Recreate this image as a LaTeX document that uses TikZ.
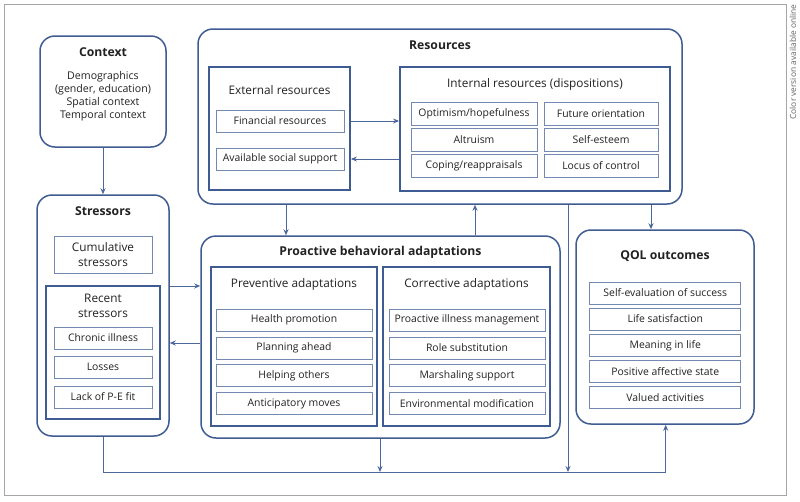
\documentclass[tikz,border=0pt]{standalone}
\usepackage{fontspec}
\setmainfont{Open Sans}
\usetikzlibrary{arrows.meta}
\definecolor{dk}{HTML}{3E5C92}
\definecolor{ln}{HTML}{4B679B}
\definecolor{it}{HTML}{7489B1}
\definecolor{tx}{HTML}{222222}
\tikzset{
  bigbox/.style={draw=dk, line width=1.5pt, rounded corners=15pt, inner sep=0pt},
  grpbox/.style={draw=dk, line width=1.8pt, inner sep=0pt},
  itembox/.style={draw=it, line width=0.9pt, inner sep=0pt, minimum height=22pt, font=\fontsize{10.4}{15}\selectfont, text=tx},
  ttl/.style={font=\bfseries\fontsize{12.2}{14}\selectfont, text=tx, inner sep=0pt},
  sub/.style={font=\fontsize{11.8}{15}\selectfont, text=tx, inner sep=0pt, align=center},
  body/.style={font=\fontsize{10.6}{13}\selectfont, text=tx, inner sep=0pt, align=center},
  arr/.style={draw=ln, line width=0.9pt, -{Stealth[length=6pt,width=5pt]}},
  ln/.style={draw=ln, line width=0.9pt},
}
\begin{document}
\begin{tikzpicture}[x=1pt,y=-1pt]
\useasboundingbox (0,0) rectangle (800,501);
\fill[white] (0,0) rectangle (800,501);
\draw[gray!70, line width=0.8pt] (4,4) rectangle (786,495);
\node[rotate=90, font=\fontsize{8.4}{9}\selectfont, text=gray!80!black, inner sep=0pt] (note) at (793,62) {Color version available online};

% Context
\node[bigbox, minimum width=126pt, minimum height=111pt] (ctx) at (103,91.5) {};
\node[ttl] (ctxt) at (103,52) {Context};
\node[body] (ctxb) at (103,96.5) {Demographics\\(gender, education)\\Spatial context\\Temporal context};

% Stressors
\node[bigbox, minimum width=132pt, minimum height=241pt] (str) at (103,315.5) {};
\node[ttl] (strt) at (103,211) {Stressors};
\node[itembox, minimum width=98pt, minimum height=37pt, align=center, font=\fontsize{11.8}{15}\selectfont] (cum) at (103,254.5) {Cumulative\\stressors};
\node[grpbox, minimum width=114pt, minimum height=133pt] (rec) at (103,352.5) {};
\node[sub] (rect) at (103,305.5) {Recent\\stressors};
\node[itembox, minimum width=98pt] (chr) at (103,338) {Chronic illness};
\node[itembox, minimum width=98pt] (los) at (103,367) {Losses};
\node[itembox, minimum width=98pt] (pef) at (103,397) {Lack of P-E fit};

% Resources
\node[bigbox, minimum width=484pt, minimum height=175pt] (res) at (440,116.5) {};
\node[ttl] (rest) at (440,45) {Resources};
\node[grpbox, minimum width=141pt, minimum height=123pt] (ext) at (279.5,128.5) {};
\node[sub] (extt) at (279.5,90) {External resources};
\node[itembox, minimum width=128pt] (fin) at (280,121) {Financial resources};
\node[itembox, minimum width=128pt] (soc) at (280,159) {Available social support};
\node[grpbox, minimum width=270pt, minimum height=124pt] (int) at (535,129) {};
\node[sub] (intt) at (535,84) {Internal resources (dispositions)};
\node[itembox, minimum width=126pt, minimum height=23pt] (opt) at (474,113.5) {Optimism/hopefulness};
\node[itembox, minimum width=126pt, minimum height=23pt] (alt) at (474,139.5) {Altruism};
\node[itembox, minimum width=126pt, minimum height=23pt] (cop) at (474,165.5) {Coping/reappraisals};
\node[itembox, minimum width=114pt, minimum height=23pt] (fut) at (601,113.5) {Future orientation};
\node[itembox, minimum width=114pt, minimum height=23pt] (est) at (601,139.5) {Self-esteem};
\node[itembox, minimum width=114pt, minimum height=23pt] (loc) at (601,165.5) {Locus of control};

% Proactive
\node[bigbox, minimum width=359pt, minimum height=202pt] (pro) at (380.5,337) {};
\node[ttl] (prot) at (380.5,252) {Proactive behavioral adaptations};
\node[grpbox, minimum width=166pt, minimum height=159pt] (prev) at (294,346.5) {};
\node[sub] (prevt) at (294,284) {Preventive adaptations};
\node[itembox, minimum width=156pt] (hp) at (294,320) {Health promotion};
\node[itembox, minimum width=156pt] (pa) at (294,348) {Planning ahead};
\node[itembox, minimum width=156pt] (ho) at (294,375.7) {Helping others};
\node[itembox, minimum width=156pt] (am) at (294,403.5) {Anticipatory moves};
\node[grpbox, minimum width=167pt, minimum height=159pt] (corr) at (466.5,346.5) {};
\node[sub] (corrt) at (466.5,284) {Corrective adaptations};
\node[itembox, minimum width=156pt] (pim) at (467,320) {Proactive illness management};
\node[itembox, minimum width=156pt] (rs) at (467,348) {Role substitution};
\node[itembox, minimum width=156pt] (ms) at (467,375.7) {Marshaling support};
\node[itembox, minimum width=156pt] (em) at (467,403.5) {Environmental modification};

% QOL
\node[bigbox, minimum width=178pt, minimum height=194pt] (qol) at (665,327) {};
\node[ttl] (qolt) at (665,256) {QOL outcomes};
\node[itembox, minimum width=151pt] (q1) at (665.3,293) {Self-evaluation of success};
\node[itembox, minimum width=151pt] (q2) at (665.3,319) {Life satisfaction};
\node[itembox, minimum width=151pt] (q3) at (665.3,345.5) {Meaning in life};
\node[itembox, minimum width=151pt] (q4) at (665.3,371.7) {Positive affective state};
\node[itembox, minimum width=151pt] (q5) at (665.3,397.5) {Valued activities};

% helper coordinates
\coordinate (xa) at (286,0);
\coordinate (xb) at (475,0);
\coordinate (xc) at (651,0);
\coordinate (xd) at (568,0);
\coordinate (xe) at (380,0);
\coordinate (xf) at (665.7,0);
\coordinate (ya) at (0,286);
\coordinate (yb) at (0,343);
\coordinate (ybot) at (0,472);

% connectors
\draw[arr] (ctx.south) -- (str.north);
\draw[arr] (res.south -| xa) -- (pro.north -| xa);
\draw[arr] (pro.north -| xb) -- (res.south -| xb);
\draw[arr] (res.south -| xc) -- (qol.north -| xc);
\draw[arr] (ext.east |- fin) -- (int.west |- fin);
\draw[arr] (int.west |- soc) -- (ext.east |- soc);
\draw[arr] (str.east |- ya) -- (pro.west |- ya);
\draw[arr] (pro.west |- yb) -- (str.east |- yb);
\draw[arr] (str.south) -- (str.south |- ybot) -- (xf |- ybot) -- (qol.south -| xf);
\draw[arr] (pro.south -| xe) -- (xe |- ybot);
\draw[arr] (res.south -| xd) -- (xd |- ybot);
\end{tikzpicture}
\end{document}
